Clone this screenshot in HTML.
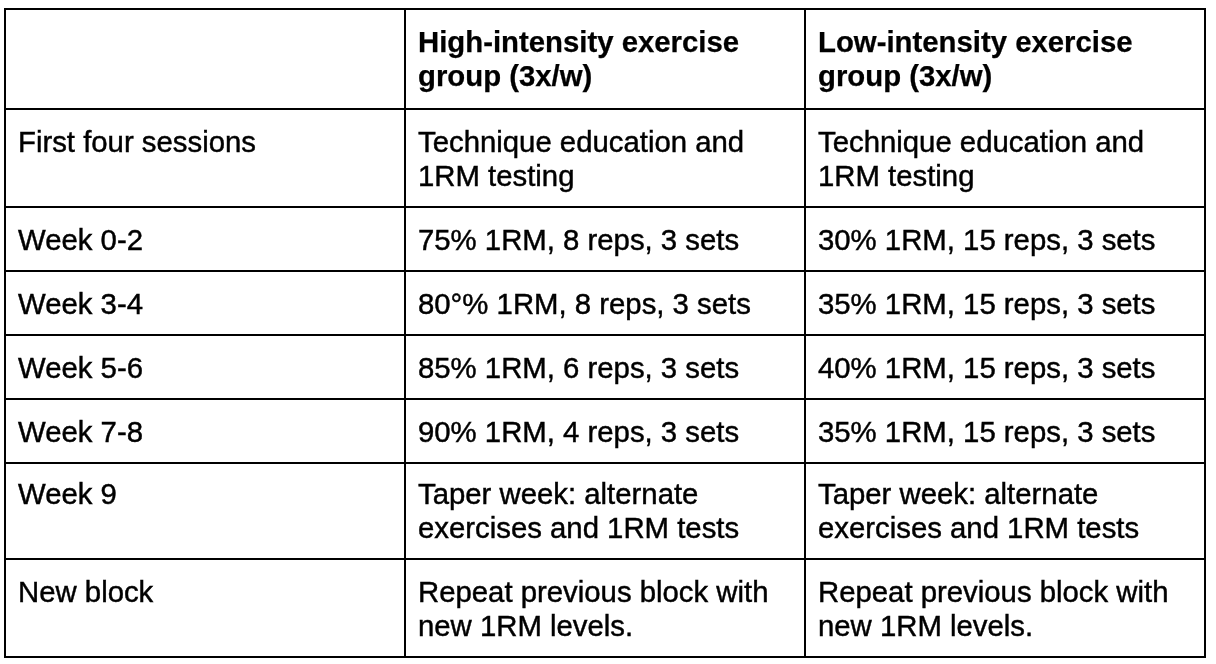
<!DOCTYPE html><html><head><meta charset="utf-8"><style>
html,body{margin:0;padding:0;background:#fff;}
body{width:1216px;height:664px;position:relative;overflow:hidden;font-family:"Liberation Sans",sans-serif;color:#000;}
.h{position:absolute;left:4px;width:1202px;height:2px;background:#000;}
.v{position:absolute;top:8px;height:650px;width:2px;background:#000;}
.t{position:absolute;white-space:nowrap;font-size:29.33px;line-height:33.7px;}
.b{font-weight:bold;}
.t{will-change:transform;-webkit-text-stroke:0.45px #000;}
.t.b{-webkit-text-stroke:0.25px #000;}
</style></head><body>
<div class="h" style="top:8px"></div>
<div class="h" style="top:108px"></div>
<div class="h" style="top:206px"></div>
<div class="h" style="top:270px"></div>
<div class="h" style="top:334px"></div>
<div class="h" style="top:398px"></div>
<div class="h" style="top:462px"></div>
<div class="h" style="top:558px"></div>
<div class="h" style="top:656px"></div>
<div class="v" style="left:4px"></div>
<div class="v" style="left:404px"></div>
<div class="v" style="left:804px"></div>
<div class="v" style="left:1204px"></div>
<div class="t b" style="left:418px;top:25px;">High-intensity exercise</div>
<div class="t b" style="left:418px;top:59px;">group (3x/w)</div>
<div class="t b" style="left:818px;top:25px;">Low-intensity exercise</div>
<div class="t b" style="left:818px;top:59px;">group (3x/w)</div>
<div class="t" style="left:18.3px;top:125px;">First four sessions</div>
<div class="t" style="left:418px;top:125px;">Technique education and</div>
<div class="t" style="left:418px;top:159px;">1RM testing</div>
<div class="t" style="left:818px;top:125px;">Technique education and</div>
<div class="t" style="left:818px;top:159px;">1RM testing</div>
<div class="t" style="left:18.3px;top:223px;">Week 0-2</div>
<div class="t" style="left:418px;top:223px;">75% 1RM, 8 reps, 3 sets</div>
<div class="t" style="left:818px;top:223px;">30% 1RM, 15 reps, 3 sets</div>
<div class="t" style="left:18.3px;top:287px;">Week 3-4</div>
<div class="t" style="left:418px;top:287px;">80°% 1RM, 8 reps, 3 sets</div>
<div class="t" style="left:818px;top:287px;">35% 1RM, 15 reps, 3 sets</div>
<div class="t" style="left:18.3px;top:351px;">Week 5-6</div>
<div class="t" style="left:418px;top:351px;">85% 1RM, 6 reps, 3 sets</div>
<div class="t" style="left:818px;top:351px;">40% 1RM, 15 reps, 3 sets</div>
<div class="t" style="left:18.3px;top:415px;">Week 7-8</div>
<div class="t" style="left:418px;top:415px;">90% 1RM, 4 reps, 3 sets</div>
<div class="t" style="left:818px;top:415px;">35% 1RM, 15 reps, 3 sets</div>
<div class="t" style="left:18.3px;top:477px;">Week 9</div>
<div class="t" style="left:418px;top:477px;">Taper week: alternate</div>
<div class="t" style="left:418px;top:511px;">exercises and 1RM tests</div>
<div class="t" style="left:818px;top:477px;">Taper week: alternate</div>
<div class="t" style="left:818px;top:511px;">exercises and 1RM tests</div>
<div class="t" style="left:18.3px;top:575px;">New block</div>
<div class="t" style="left:418px;top:575px;">Repeat previous block with</div>
<div class="t" style="left:418px;top:609px;">new 1RM levels.</div>
<div class="t" style="left:818px;top:575px;">Repeat previous block with</div>
<div class="t" style="left:818px;top:609px;">new 1RM levels.</div>
</body></html>
